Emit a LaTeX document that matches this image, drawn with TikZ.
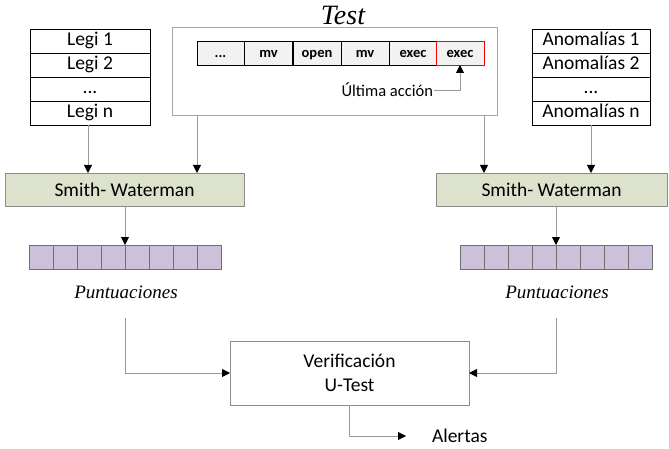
\documentclass[tikz,border=0pt]{standalone}
\usepackage{fontspec}
\setmainfont{Carlito}
\newfontfamily\serifit{Liberation Serif}
\usetikzlibrary{arrows.meta,calc}
\definecolor{swfill}{HTML}{DCE2CC}
\definecolor{swdraw}{HTML}{8C8C8C}
\definecolor{scfill}{HTML}{CCC0DA}
\definecolor{scdraw}{HTML}{707070}
\definecolor{seqfill}{HTML}{F2F2F2}
\definecolor{conn}{HTML}{9A9A9A}
\definecolor{boxgray}{HTML}{A6A6A6}
\begin{document}
\begin{tikzpicture}[x=1pt,y=-1pt,
  every node/.style={inner sep=0pt,outer sep=0pt},
  rowbox/.style={draw=black,line width=0.9pt,fill=white,minimum width=120pt,minimum height=24pt,text height=13pt,text depth=3pt,font=\fontsize{19.5}{20}\selectfont},
  arowbox/.style={rowbox,minimum width=118pt},
  seqcell/.style={draw=black,line width=0.9pt,fill=seqfill,minimum width=48pt,minimum height=24pt,text height=11pt,text depth=1pt,font=\fontsize{14.5}{15}\selectfont\bfseries},
  swbox/.style={draw=swdraw,line width=0.9pt,fill=swfill,minimum height=33pt,font=\fontsize{19.5}{20}\selectfont},
  sccell/.style={draw=scdraw,line width=0.8pt,fill=scfill,minimum width=24pt,minimum height=24pt},
  punt/.style={font=\serifit\itshape\fontsize{19}{20}\selectfont,anchor=base},
  conline/.style={draw=conn,line width=0.9pt,-{Triangle[black,length=8pt,width=8pt]}}
]
\useasboundingbox (0,0) rectangle (669,449);

% Title
\node[font=\serifit\itshape\fontsize{28}{28}\selectfont,anchor=base] (title) at (343,25) {Test};

% Test box
\node[draw=boxgray,line width=0.9pt,fill=white,minimum width=325pt,minimum height=88pt] (test) at (334.5,71) {};

% Sequence cells
\node[seqcell,minimum width=47pt] (s0) at (220.5,53) {...};
\node[seqcell] (s1) at (268.5,53) {mv};
\node[seqcell] (s2) at (317,53) {open};
\node[seqcell] (s3) at (365,53) {mv};
\node[seqcell] (s4) at (413,53) {exec};
\node[seqcell,draw=red] (s5) at (460,53) {exec};

\node[anchor=east,font=\fontsize{16.5}{17}\selectfont] (ult) at (433,90) {Última acción};
\draw[conline] ([xshift=1pt]ult.east) -| (s5.south);

% Legi box
\node[rowbox] (legi1) at (90,41) {Legi 1};
\node[rowbox] (legi2) at (90,65) {Legi 2};
\node[rowbox] (legi3) at (90,89) {...};
\node[rowbox] (legin) at (90,113) {Legi n};

% Anomalias box
\node[arowbox] (anom1) at (591,41) {Anomalías 1};
\node[arowbox] (anom2) at (591,65) {Anomalías 2};
\node[arowbox] (anom3) at (591,89) {...};
\node[arowbox] (anomn) at (591,113) {Anomalías n};

% Smith-Waterman boxes
\node[swbox,minimum width=239pt] (swL) at (124.5,189.5) {Smith- Waterman};
\node[swbox,minimum width=231pt] (swR) at (551.5,189.5) {Smith- Waterman};

% connectors into SW
\draw[conline] ([xshift=-2pt]legin.south) -- ([xshift=-2pt]legin.south |- swL.north);
\draw[conline] ([xshift=25pt]test.south west) -- ([xshift=25pt]test.south west |- swL.north);
\draw[conline] ([xshift=-13pt]test.south east) -- ([xshift=-13pt]test.south east |- swR.north);
\draw[conline] (anomn.south) -- (anomn.south |- swR.north);

% Score arrays
\foreach \i in {0,...,7}{
  \node[sccell] (scL\i) at (41+24*\i,257) {};
  \node[sccell] (scR\i) at (472+24*\i,257) {};
}
\draw[conline] (swL.south -| scL3.east) -- (scL3.north east);
\draw[conline] (swR.south -| scR3.east) -- (scR3.north east);

% Puntuaciones
\node[punt] (punL) at (126,298) {Puntuaciones};
\node[punt] (punR) at (557,298) {Puntuaciones};

% Verification box
\node[draw=swdraw,line width=0.9pt,fill=white,minimum width=239pt,minimum height=64pt,align=center,font=\fontsize{19.5}{24}\selectfont] (verif) at (349.5,373) {Verificación\\U-Test};

\coordinate (pL) at (125,318);
\coordinate (pR) at (556,318);
\draw[conline] (pL) |- (verif.west);
\draw[conline] (pR) |- (verif.east);

% Alertas
\node[anchor=west,font=\fontsize{19.5}{20}\selectfont] (alert) at (432,436) {Alertas};
\coordinate (aend) at (406,436);
\draw[conline] (verif.south) |- (aend);
\end{tikzpicture}
\end{document}
